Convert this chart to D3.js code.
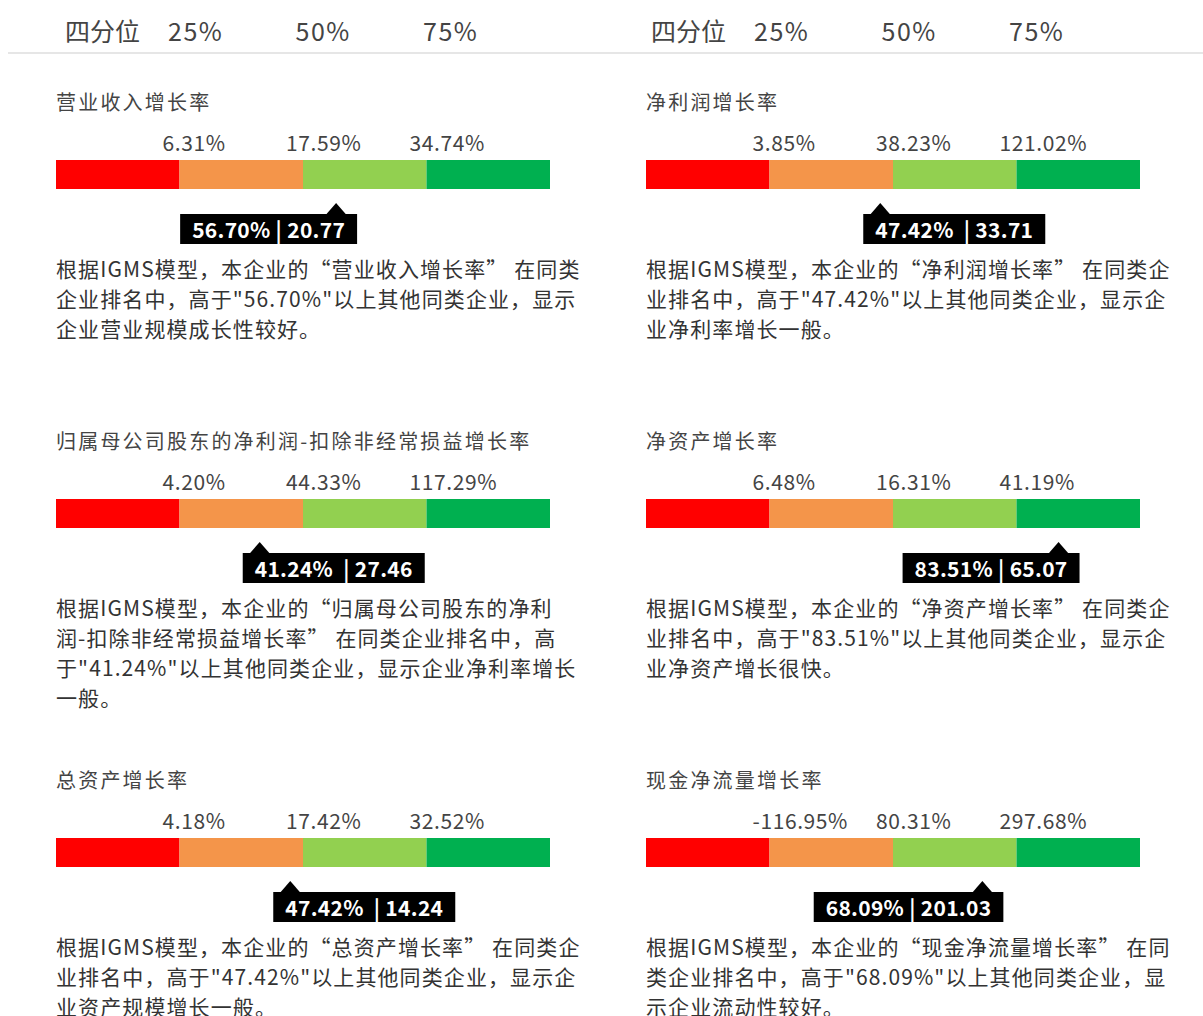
<!DOCTYPE html>
<html>
<head>
<meta charset="utf-8">
<script src="https://cdn.jsdelivr.net/npm/d3@7"></script>
<style>
  html, body { margin: 0; padding: 0; background: #fff; }
  svg { display: block; font-family: "Noto Sans CJK SC", "Noto Sans", sans-serif; }
</style>
</head>
<body>
<div id="chart"></div>
<script>
// Kennzahlen (Reihenfolge: links/rechts, zeilenweise)
const titles = [
  "营业收入增长率",
  "净利润增长率",
  "归属母公司股东的净利润-扣除非经常损益增长率",
  "净资产增长率",
  "总资产增长率",
  "现金净流量增长率"
];
const quartileHeader = ["25%", "50%", "75%"];
const q25 = ["6.31%", "3.85%", "4.20%", "6.48%", "4.18%", "-116.95%"];
const q50 = ["17.59%", "38.23%", "44.33%", "16.31%", "17.42%", "80.31%"];
const q75 = ["34.74%", "121.02%", "117.29%", "41.19%", "32.52%", "297.68%"];
const rankPct = [56.70, 47.42, 41.24, 83.51, 47.42, 68.09];
const rankLabel = ["56.70% | 20.77", "47.42%  | 33.71", "41.24%  | 27.46", "83.51% | 65.07", "47.42%  | 14.24", "68.09% | 201.03"];
const descriptions = [
  ["根据IGMS模型，本企业的“营业收入增长率” 在同类", "企业排名中，高于\"56.70%\"以上其他同类企业，显示", "企业营业规模成长性较好。"],
  ["根据IGMS模型，本企业的“净利润增长率” 在同类企", "业排名中，高于\"47.42%\"以上其他同类企业，显示企", "业净利率增长一般。"],
  ["根据IGMS模型，本企业的“归属母公司股东的净利", "润-扣除非经常损益增长率” 在同类企业排名中，高", "于\"41.24%\"以上其他同类企业，显示企业净利率增长", "一般。"],
  ["根据IGMS模型，本企业的“净资产增长率” 在同类企", "业排名中，高于\"83.51%\"以上其他同类企业，显示企", "业净资产增长很快。"],
  ["根据IGMS模型，本企业的“总资产增长率” 在同类企", "业排名中，高于\"47.42%\"以上其他同类企业，显示企", "业资产规模增长一般。"],
  ["根据IGMS模型，本企业的“现金净流量增长率” 在同", "类企业排名中，高于\"68.09%\"以上其他同类企业，显", "示企业流动性较好。"]
];
const segmentColors = ["#ff0000", "#f4954a", "#92d050", "#00b050"];

const width = 1203, height = 1016;
const colX = [56, 646];
const rowY = [0, 339, 678];
const barW = 494, barH = 29;

const svg = d3.select("#chart").append("svg")
  .attr("width", width)
  .attr("height", height);

// Kopfzeile
const headerScale = d3.scaleLinear().domain([0, 2]).range([168, 423]);
colX.forEach((cx, c) => {
  const off = c * 586;
  svg.append("text")
    .attr("x", 65 + off).attr("y", 30)
    .attr("dominant-baseline", "central")
    .style("font-size", "25px").style("fill", "#444")
    .text("四分位");
  svg.selectAll(null).data(quartileHeader).join("text")
    .attr("x", (d, i) => headerScale(i) + off)
    .attr("y", 30)
    .attr("dominant-baseline", "central")
    .style("font-size", "25px").style("letter-spacing", "1.5px").style("fill", "#444")
    .text(d => d);
});
svg.append("line")
  .attr("x1", 8).attr("x2", width).attr("y1", 53).attr("y2", 53)
  .style("stroke", "#e6e6e6").style("stroke-width", "2px");

const x = d3.scaleLinear().domain([0, 100]).range([0, barW]);
const bounds = [0, 25, 50, 75, 100];

titles.forEach((title, k) => {
  const g = svg.append("g")
    .attr("transform", `translate(${colX[k % 2]},${rowY[Math.floor(k / 2)]})`);

  g.append("text")
    .attr("x", 0).attr("y", 101)
    .attr("dominant-baseline", "central")
    .style("font-size", "20px").style("letter-spacing", "2.2px").style("fill", "#444")
    .text(title);

  // Quartilswerte
  const qLabels = [q25[k], q50[k], q75[k]];
  g.selectAll("text.q").data(qLabels).join("text")
    .attr("class", "q")
    .attr("x", (d, i) => x(bounds[i + 1]) - 17)
    .attr("y", 142)
    .attr("dominant-baseline", "central")
    .style("font-size", "21px").style("letter-spacing", "0.6px").style("fill", "#444")
    .text(d => d);

  // Balken
  g.selectAll("rect.seg").data(d3.pairs(bounds)).join("rect")
    .attr("class", "seg")
    .attr("x", d => x(d[0]))
    .attr("y", 160)
    .attr("width", d => x(d[1]) - x(d[0]))
    .attr("height", barH)
    .style("fill", (d, i) => segmentColors[i]);

  // Zeiger + Box
  const px = x(rankPct[k]);
  const label = g.append("text")
    .attr("y", 229)
    .attr("dominant-baseline", "central")
    .style("font-size", "21px").style("font-weight", "bold")
    .style("letter-spacing", "0.3px")
    .style("fill", "#fff").style("white-space", "pre")
    .text(rankLabel[k]);
  const tw = label.node().getComputedTextLength();
  const boxW = tw + 24;
  const boxX = rankPct[k] > 50 ? px + 21 - boxW : px - 17;
  g.insert("rect", "text:last-child")
    .attr("x", boxX).attr("y", 214)
    .attr("width", boxW).attr("height", 30)
    .style("fill", "#000");
  g.insert("path", "text:last-child")
    .attr("d", `M${px - 10},214.5 L${px},203 L${px + 10},214.5 Z`)
    .style("fill", "#000");
  label.attr("x", boxX + 12);

  // Beschreibung
  g.selectAll("text.desc").data(descriptions[k]).join("text")
    .attr("class", "desc")
    .attr("x", 0)
    .attr("y", (d, i) => 268 + i * 30)
    .attr("dominant-baseline", "central")
    .style("font-size", "21px").style("letter-spacing", "1.1px").style("fill", "#333")
    .style("white-space", "pre")
    .text(d => d);
});
</script>
</body>
</html>
